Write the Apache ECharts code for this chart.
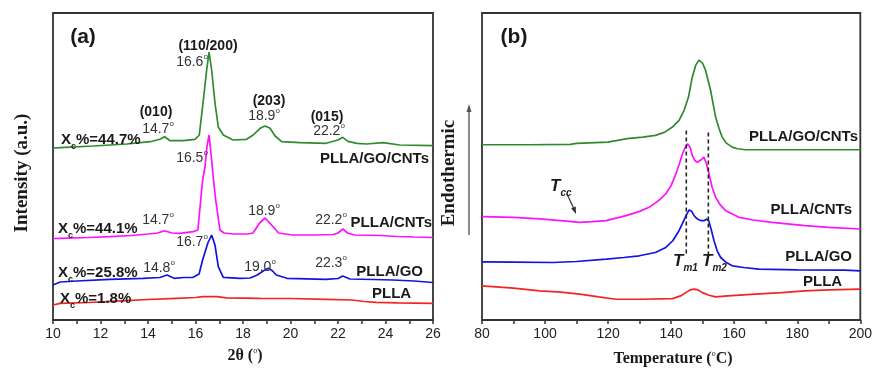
<!DOCTYPE html>
<html>
<head>
<meta charset="utf-8">
<script src="https://cdn.jsdelivr.net/npm/echarts@6/dist/echarts.min.js"></script>
<style>html,body{margin:0;padding:0;background:#fff}#c{width:875px;height:369px}</style>
</head>
<body>
<div id="c"></div>
<script>
// ---------- Panel (a): XRD, 2θ (°) vs intensity (a.u.) ----------
const xrdGoCntX = [10.0,10.3,11.7,13.1,14.1,14.5,14.7,14.93,15.5,15.98,16.16,16.33,16.47,16.57,16.68,16.82,16.96,17.17,17.58,18.15,18.43,18.72,18.93,19.14,19.35,19.63,20.4,21.5,22.0,22.2,22.42,22.8,23.2,23.9,24.6,26.0];
const xrdGoCntY = [172,172.3,174,176,178.3,180.7,183.3,179.3,179.3,180.7,185,220,250,268,250,217,193,185,180,180.7,185,191.7,194,191.7,184,178.3,177.3,176.7,180,182.7,178.7,176.7,176,177.3,175,174.3];

const xrdCntX = [10.0,10.3,11.5,12.4,13.3,14.0,14.4,14.7,15.0,15.35,15.9,16.1,16.3,16.4,16.48,16.57,16.68,16.75,16.85,17.03,17.2,17.6,18.2,18.42,18.7,18.93,19.2,19.5,20.1,21.0,21.8,22.0,22.2,22.4,22.7,23.8,24.5,25.2,26.0];
const xrdCntY = [81.5,81.7,82.5,83.3,84.5,86,87,89.3,87,86.7,88.3,90,140,153,173,185,160,142,120,90,87,86,86,87,97,102,95,87,85,85,85.5,87,91,87,85,84.5,83.5,83,82.5];

const xrdGoX = [10.0,10.3,11.0,12.4,13.8,14.5,14.8,15.1,15.5,15.9,16.15,16.3,16.52,16.68,16.82,16.96,17.17,17.87,18.3,18.6,18.85,19.06,19.25,19.4,19.85,21.5,22.0,22.2,22.5,23.5,24.3,25.2,26.0];
const xrdGoY = [35,38,39,40.7,41.7,42.5,45,41.7,42.5,42.7,46,60,77,85,75,53.3,42.7,41.7,42,45,49,51.7,49,45,41.7,40.7,41.5,44,41,40.5,40,39,37.5];

const xrdPllaX = [10.0,10.3,11.5,13.1,14.0,15.2,16.0,16.3,16.9,17.3,18.7,20.0,21.5,22.6,23.1,23.6,24.5,26.0];
const xrdPllaY = [15,16.7,17.5,19.3,20.5,21.7,22.5,23.3,23.3,22.2,21.7,21.5,20.7,20,18.5,17.7,17.2,16.7];

// ---------- Panel (b): DSC, Temperature (°C) vs heat flow (a.u.) ----------
const dscGoCntX = [80,95,108,110,120,126,131,135,138,140.4,142.5,144.1,145.5,146.7,147.8,148.8,150,150.9,152.5,154.1,155.2,156.2,157.5,159.4,161,163.6,180,200];
const dscGoCntY = [174.7,174.7,175,176,177.3,180.7,182.3,184,187.3,192.3,199,209,222.3,242.3,254,259,255.7,249,229,202.3,190.7,182.3,176.3,172.3,170.7,169.7,169.7,169.7];

const dscCntX = [80,90,98.3,105,111,115,119.4,125.7,130,133,136,138.3,140,141.5,142.6,143.6,144.5,145.2,146,146.7,147.5,148.3,149.5,150.4,151.2,152,153,154.1,155.5,157.3,161.5,166,172,182.5,190,200];
const dscCntY = [103,102.3,100.7,99,97.3,98,99,104,108.3,112.3,119,125.7,134,145.7,155.7,165.7,172.3,175.7,172.3,164,159,157.3,159.7,162.3,155.7,145.7,132.3,122.3,115,109,102.3,99.7,97.3,94,92.3,90.7];

const dscGoX = [80,90,102.5,110,119.4,125,129.9,135,138.3,140.5,142.5,144,145,145.7,146.5,147.5,148.3,149.5,150.4,151.3,152,152.8,153.6,154.6,155.7,157.5,159.4,163,167.8,180,195,200];
const dscGoY = [58,57.7,57.3,58.3,60.7,62.3,64,67.3,72.3,79,89,99,105.7,109.7,108.3,103,100.7,99,99,100.7,98.3,89,79,69,62.3,57.3,54,52.3,50.7,50,49.7,49];

const dscPllaX = [80,90,98.3,105,111,117,122.5,130,140.4,143,144.6,146,147.3,148.5,149.9,152,154.1,158,166.7,175,182.5,190,200];
const dscPllaY = [34,31.7,29,27.7,25.7,23,20.7,20.7,21.3,24,27.3,30,30.7,30,27.3,24.7,23,24,25.7,27.3,29,30,30.7];

// melting-peak guide lines (Tm1, Tm2)
const tm1X = [144.8,144.8], tm1Y = [189,64];
const tm2X = [151.8,151.8], tm2Y = [187,62];

const xTicksA = {min:10, max:26, interval:2};
const xTicksB = {min:80, max:200, interval:20};

const C_GREEN = '#2f8a2f', C_MAG = '#ff10ff', C_BLUE = '#1414e0', C_RED = '#f22424';
const SANS = '"Liberation Sans", Arial, sans-serif';
const SERIF = '"Liberation Serif", "Times New Roman", serif';

function zip(xs, ys){ return xs.map((x,i)=>[x, ys[i]]); }
function line(xi, xs, ys, color){
  return {type:'line', xAxisIndex:xi, yAxisIndex:xi, data:zip(xs,ys), showSymbol:false, symbol:'none',
    lineStyle:{color:color, width:1.7}, itemStyle:{color:color}, animation:false, z:3};
}
function dashed(xs, ys){
  return {type:'line', xAxisIndex:1, yAxisIndex:1, data:zip(xs,ys), showSymbol:false, symbol:'none',
    lineStyle:{color:'#222', width:1.6, type:[4,3]}, animation:false, z:4};
}
function richStyles(fill, weight, family){
  return {
    sup:{fontSize:8, lineHeight:9, verticalAlign:'top', fill:fill, color:fill, fontFamily:family, fontWeight:'normal'},
    sub:{fontSize:9, lineHeight:8, verticalAlign:'bottom', fill:fill, color:fill, fontFamily:family, fontWeight:weight},
    subi:{fontSize:10, lineHeight:8, verticalAlign:'bottom', fill:fill, color:fill, fontFamily:family, fontWeight:'bold', fontStyle:'italic'}
  };
}
function T(x, y, text, o){
  o = o || {};
  const fill = o.fill || '#1a1a1a';
  const family = o.family || SANS;
  const weight = o.weight || 'normal';
  const size = o.size || 14;
  const align = o.align || 'left';
  return {type:'text', x:x, y:y, z:10, silent:true, rotation:o.rotation || 0,
    style:{text:text, fill:fill, fontSize:size, fontFamily:family, fontWeight:weight, fontStyle:o.style||'normal',
      lineHeight:o.lh || 18, align:align, textAlign:align, verticalAlign:'middle', textVerticalAlign:'middle',
      rich:richStyles(fill, weight, family)}};
}
const deg = (v) => v + '{sup|o}';
const gray = '#333';

const graphics = [
  // panel (a)
  T(83,37,'(a)',{weight:'bold',size:21,align:'center'}),
  T(208,46,'(110/200)',{weight:'bold',size:14,align:'center'}),
  T(192,62,deg('16.6'),{fill:gray,align:'center'}),
  T(269,101,'(203)',{weight:'bold',size:14,align:'center'}),
  T(264,116,deg('18.9'),{fill:gray,align:'center'}),
  T(156,112,'(010)',{weight:'bold',size:14,align:'center'}),
  T(158,129,deg('14.7'),{fill:gray,align:'center'}),
  T(327,117,'(015)',{weight:'bold',size:14,align:'center'}),
  T(329,131,deg('22.2'),{fill:gray,align:'center'}),
  T(61,140,'X{sub|c}%=44.7%',{weight:'bold',size:15,lh:22}),
  T(429,159,'PLLA/GO/CNTs',{weight:'bold',size:15,align:'right'}),
  T(192,158,deg('16.5'),{fill:gray,align:'center'}),
  T(158,220,deg('14.7'),{fill:gray,align:'center'}),
  T(58,229,'X{sub|c}%=44.1%',{weight:'bold',size:15,lh:22}),
  T(264,211,deg('18.9'),{fill:gray,align:'center'}),
  T(331,220,deg('22.2'),{fill:gray,align:'center'}),
  T(432,223,'PLLA/CNTs',{weight:'bold',size:15,align:'right'}),
  T(192,242,deg('16.7'),{fill:gray,align:'center'}),
  T(58,273,'X{sub|c}%=25.8%',{weight:'bold',size:15,lh:22}),
  T(159,268,deg('14.8'),{fill:gray,align:'center'}),
  T(260,267,deg('19.0'),{fill:gray,align:'center'}),
  T(331,263,deg('22.3'),{fill:gray,align:'center'}),
  T(423,272,'PLLA/GO',{weight:'bold',size:15,align:'right'}),
  T(60,299,'X{sub|c}%=1.8%',{weight:'bold',size:15,lh:22}),
  T(372,294,'PLLA',{weight:'bold',size:15}),
  T(245,356,'2θ (' + '{sup|o})',{weight:'bold',size:16,family:SERIF,align:'center'}),
  T(22,173,'Intensity (a.u.)',{weight:'bold',size:19,family:SERIF,align:'center',rotation:Math.PI/2}),
  // panel (b)
  T(514,37,'(b)',{weight:'bold',size:21,align:'center'}),
  T(858,137,'PLLA/GO/CNTs',{weight:'bold',size:15,align:'right'}),
  T(852,210,'PLLA/CNTs',{weight:'bold',size:15,align:'right'}),
  T(852,257,'PLLA/GO',{weight:'bold',size:15,align:'right'}),
  T(803,282,'PLLA',{weight:'bold',size:15}),
  T(550,186,'T{subi|cc}',{weight:'bold',size:17,style:'italic',lh:24}),
  T(673,261,'T{subi|m1}',{weight:'bold',size:17,style:'italic',lh:24}),
  T(702,261,'T{subi|m2}',{weight:'bold',size:17,style:'italic',lh:24}),
  T(673,359,'Temperature (' + '{sup|o}C)',{weight:'bold',size:16,family:SERIF,align:'center'}),
  T(449,173,'Endothermic',{weight:'bold',size:19,family:SERIF,align:'center',rotation:Math.PI/2}),
  // Endothermic arrow
  {type:'line', silent:true, shape:{x1:469,y1:235,x2:469,y2:110}, style:{stroke:'#666',lineWidth:1.5}},
  {type:'polygon', silent:true, shape:{points:[[469,104],[466.5,112],[471.5,112]]}, style:{fill:'#555'}},
  // Tcc arrow
  {type:'line', silent:true, shape:{x1:567,y1:194,x2:574,y2:209}, style:{stroke:'#333',lineWidth:1.2}},
  {type:'polygon', silent:true, shape:{points:[[576,214],[571.2,208.5],[575.8,206.6]]}, style:{fill:'#333'}}
];

function xAxis(gi, t){
  return {type:'value', gridIndex:gi, min:t.min, max:t.max, interval:t.interval,
    axisLine:{show:true, onZero:false, lineStyle:{color:'#333', width:1.8}},
    axisTick:{show:true, inside:false, length:4, lineStyle:{color:'#333', width:1.5}},
    minorTick:{show:true, splitNumber:2, length:4, lineStyle:{color:'#333', width:1.5}},
    splitLine:{show:false}, minorSplitLine:{show:false},
    axisLabel:{color:'#222', fontSize:14, fontFamily:SANS, margin:7, showMaxLabel:true, showMinLabel:true}};
}
function yAxis(gi, max){
  return {type:'value', gridIndex:gi, min:0, max:max, show:false, splitLine:{show:false}};
}

const chart = echarts.init(document.getElementById('c'), null, {renderer:'canvas'});
chart.setOption({
  backgroundColor:'#fff',
  animation:false,
  grid:[
    {left:53, right:442, top:13, bottom:49, show:true, borderColor:'#333', borderWidth:1.8, backgroundColor:'transparent'},
    {left:482, right:13, top:13, bottom:49, show:true, borderColor:'#333', borderWidth:1.8, backgroundColor:'transparent'}
  ],
  xAxis:[xAxis(0, xTicksA), xAxis(1, xTicksB)],
  yAxis:[yAxis(0, 307), yAxis(1, 306)],
  series:[
    line(0, xrdPllaX, xrdPllaY, C_RED),
    line(0, xrdGoX, xrdGoY, C_BLUE),
    line(0, xrdCntX, xrdCntY, C_MAG),
    line(0, xrdGoCntX, xrdGoCntY, C_GREEN),
    line(1, dscPllaX, dscPllaY, C_RED),
    line(1, dscGoX, dscGoY, C_BLUE),
    line(1, dscCntX, dscCntY, C_MAG),
    line(1, dscGoCntX, dscGoCntY, C_GREEN),
    dashed(tm1X, tm1Y),
    dashed(tm2X, tm2Y)
  ],
  graphic:graphics
});
</script>
</body>
</html>
